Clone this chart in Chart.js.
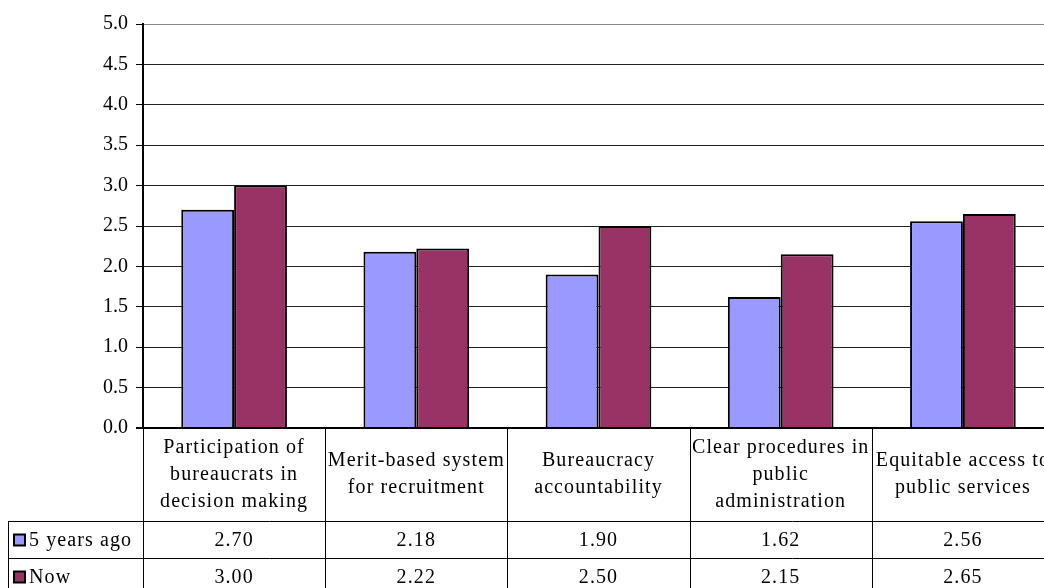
<!DOCTYPE html>
<html>
<head>
<meta charset="utf-8">
<script src="https://cdn.jsdelivr.net/npm/chart.js@4.4.0/dist/chart.umd.min.js"></script>
<style>
  html, body { margin: 0; padding: 0; background: #fff; overflow: hidden; }
  #wrap { position: relative; width: 1060px; height: 600px; }
</style>
</head>
<body>
<div id="wrap"><canvas id="myChart" width="1060" height="600"></canvas></div>
<script>
// category labels, already broken into lines
const categories = [
  ['Participation of', 'bureaucrats in', 'decision making'],
  ['Merit-based system', 'for recruitment'],
  ['Bureaucracy', 'accountability'],
  ['Clear procedures in', 'public', 'administration'],
  ['Equitable access to', 'public services']
];
const seriesNames = ['5 years ago', 'Now'];
const fiveYearsAgo = [2.70, 2.18, 1.90, 1.62, 2.56];
const nowValues = [3.00, 2.22, 2.50, 2.15, 2.65];

const colors = ['#9999FF', '#993366'];
const FONT = 'Liberation Serif';
const FONT_SIZE = 20;

// draws the data table under the plot (category row + one row per series)
const dataTable = {
  id: 'dataTable',
  afterDraw(chart) {
    const ctx = chart.ctx;
    const area = chart.chartArea;
    const n = categories.length;
    const colW = (area.right - area.left) / n;
    const labelRowH = 93;
    const rowH = 37;
    const rowTop = area.bottom + labelRowH;
    const tableLeft = 8;
    const bottom = chart.height;

    ctx.save();
    ctx.strokeStyle = '#000';
    ctx.lineWidth = 1;

    // vertical lines between columns
    for (let i = 0; i <= n; i++) {
      const x = Math.round(area.left + i * colW) + 0.5;
      ctx.beginPath();
      ctx.moveTo(x, area.bottom);
      ctx.lineTo(x, bottom);
      ctx.stroke();
    }
    // left edge of the series rows
    ctx.beginPath();
    ctx.moveTo(tableLeft + 0.5, rowTop);
    ctx.lineTo(tableLeft + 0.5, bottom);
    ctx.stroke();
    // horizontal row lines
    for (let r = 0; r <= seriesNames.length; r++) {
      const y = Math.round(rowTop + r * rowH) + 0.5;
      ctx.beginPath();
      ctx.moveTo(tableLeft, y);
      ctx.lineTo(area.right, y);
      ctx.stroke();
    }

    // bottom axis line
    ctx.lineWidth = 2;
    ctx.beginPath();
    ctx.moveTo(area.left - 7, area.bottom);
    ctx.lineTo(area.right, area.bottom);
    ctx.stroke();

    ctx.fillStyle = '#000';
    ctx.font = FONT_SIZE + 'px "' + FONT + '"';
    ctx.letterSpacing = '1.1px';
    ctx.textAlign = 'center';
    ctx.textBaseline = 'middle';

    // category labels
    const lineH = 27;
    categories.forEach((lines, i) => {
      const cx = area.left + (i + 0.5) * colW;
      const cy = area.bottom + labelRowH / 2;
      const y0 = cy - (lines.length - 1) * lineH / 2;
      lines.forEach((t, j) => ctx.fillText(t, cx, y0 + j * lineH));
    });

    // series rows
    const rows = [fiveYearsAgo, nowValues];
    rows.forEach((vals, r) => {
      const cy = rowTop + r * rowH + rowH / 2 + 1;
      // legend key
      ctx.fillStyle = colors[r];
      ctx.fillRect(14, cy - 6, 11, 11);
      ctx.lineWidth = 2;
      ctx.strokeRect(14, cy - 6, 11, 11);
      ctx.fillStyle = '#000';
      ctx.textAlign = 'left';
      ctx.fillText(seriesNames[r], 29, cy);
      ctx.textAlign = 'center';
      vals.forEach((v, i) => {
        ctx.fillText(v.toFixed(2), area.left + (i + 0.5) * colW, cy);
      });
    });
    ctx.restore();
  }
};

new Chart(document.getElementById('myChart'), {
  type: 'bar',
  data: {
    labels: categories.map(c => c.join(' ')),
    datasets: [
      {
        label: seriesNames[0],
        data: fiveYearsAgo,
        backgroundColor: colors[0],
        borderColor: '#000',
        borderWidth: 2
      },
      {
        label: seriesNames[1],
        data: nowValues,
        backgroundColor: colors[1],
        borderColor: '#000',
        borderWidth: 2
      }
    ]
  },
  options: {
    responsive: false,
    animation: false,
    layout: { padding: { top: 24, right: 6, bottom: 172, left: 0 } },
    datasets: { bar: { barPercentage: 1, categoryPercentage: 0.58 } },
    plugins: { legend: { display: false }, tooltip: { enabled: false } },
    scales: {
      x: { display: false },
      y: {
        min: 0,
        max: 5,
        afterFit(scale) { scale.width = 143; },
        ticks: {
          stepSize: 0.5,
          padding: 8,
          color: '#000',
          font: { family: FONT, size: FONT_SIZE },
          callback: v => v.toFixed(1)
        },
        grid: {
          color: ctx => ctx.tick && ctx.tick.value === 5 ? '#888' : '#222',
          tickColor: '#000',
          tickLength: 7,
          lineWidth: 1
        },
        border: { color: '#000', width: 2 }
      }
    }
  },
  plugins: [dataTable]
});
</script>
</body>
</html>
